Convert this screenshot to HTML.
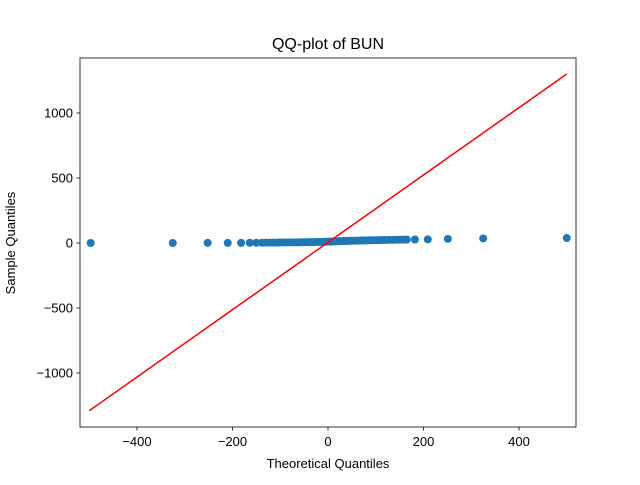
<!DOCTYPE html>
<html><head><meta charset="utf-8"><style>
body{margin:0;background:#fff;}
svg text{font-family:"Liberation Sans","DejaVu Sans",sans-serif;}
</style></head><body>
<svg id="chart" width="640" height="480" xmlns="http://www.w3.org/2000/svg">
<rect width="640" height="480" fill="#fff"/>
<g id="points"></g>
<line id="refline" stroke="#ff0000" stroke-width="1.5"/>
<rect x="80" y="58" width="496" height="369" fill="none" stroke="#000" stroke-width="0.8"/>
<g id="xticks"></g>
<g id="yticks"></g>
<text x="328" y="49" text-anchor="middle" font-size="16">QQ-plot of BUN</text>
<text x="328" y="468" text-anchor="middle" font-size="13">Theoretical Quantiles</text>
<text x="15" y="243" text-anchor="middle" font-size="13" transform="rotate(-90 15 243)">Sample Quantiles</text>
</svg>
<script>
const theoretical=[-497,-325,-252,-210,-182,-164,-150,-138,-130,-122,-115,-108,-102,-96,-90,-84,-78,-72,-66,-60,-55,-50,-45,-40,-35,-30,-25,-20,-16,-12,-8,-4,-1,2,5,8,12,16,20,24,28,32,36,40,44,48,53,58,63,68,73,78,84,90,96,102,108,114,120,128,136,144,151,158,165,182,209,251,325,500];
const sample=[0,0,1,1,1,2,2,2,3,3,3,3,4,4,4,4,5,5,5,5,6,6,6,7,7,7,8,8,8,9,9,10,10,11,11,12,12,13,13,14,14,15,15,16,16,17,17,18,18,19,19,20,20,21,21,22,22,23,23,24,24,25,25,26,26,27,28,32,35,38];
const lineX=[-500,500];
const lineY=[-1290,1300];
const xTicks=[-400,-200,0,200,400];
const yTicks=[-1000,-500,0,500,1000];
const NS="http://www.w3.org/2000/svg";
function sx(v){return 328+v*0.4775;}
function sy(v){return 243-v*0.13;}
const pg=document.getElementById('points');
for(let i=0;i<theoretical.length;i++){
  const c=document.createElementNS(NS,'circle');
  c.setAttribute('cx',sx(theoretical[i]));c.setAttribute('cy',sy(sample[i]));
  c.setAttribute('r',4);c.setAttribute('fill','#1f77b4');
  
  
  pg.appendChild(c);
}
const l=document.getElementById('refline');
l.setAttribute('x1',sx(lineX[0]));l.setAttribute('y1',sy(lineY[0]));
l.setAttribute('x2',sx(lineX[1]));l.setAttribute('y2',sy(lineY[1]));
const xg=document.getElementById('xticks');
xTicks.forEach(t=>{
  const x=sx(t);
  const tk=document.createElementNS(NS,'line');
  tk.setAttribute('x1',x);tk.setAttribute('x2',x);tk.setAttribute('y1',427);tk.setAttribute('y2',430.5);tk.setAttribute('stroke','#000');tk.setAttribute('stroke-width','0.8');
  
  
  xg.appendChild(tk);
  const tx=document.createElementNS(NS,'text');
  tx.setAttribute('x',x);tx.setAttribute('y',446);tx.setAttribute('text-anchor','middle');tx.setAttribute('font-size','13');
  tx.textContent=t<0?'\u2212'+(-t):String(t);
  
  
  xg.appendChild(tx);
});
const yg=document.getElementById('yticks');
yTicks.forEach(t=>{
  const y=sy(t);
  const tk=document.createElementNS(NS,'line');
  tk.setAttribute('x1',76.5);tk.setAttribute('x2',80);tk.setAttribute('y1',y);tk.setAttribute('y2',y);tk.setAttribute('stroke','#000');tk.setAttribute('stroke-width','0.8');
  
  
  yg.appendChild(tk);
  const tx=document.createElementNS(NS,'text');
  tx.setAttribute('x',73);tx.setAttribute('y',y+4.5);tx.setAttribute('text-anchor','end');tx.setAttribute('font-size','13');
  tx.textContent=t<0?'\u2212'+(-t):String(t);
  
  
  yg.appendChild(tx);
});
</script>
</body></html>
